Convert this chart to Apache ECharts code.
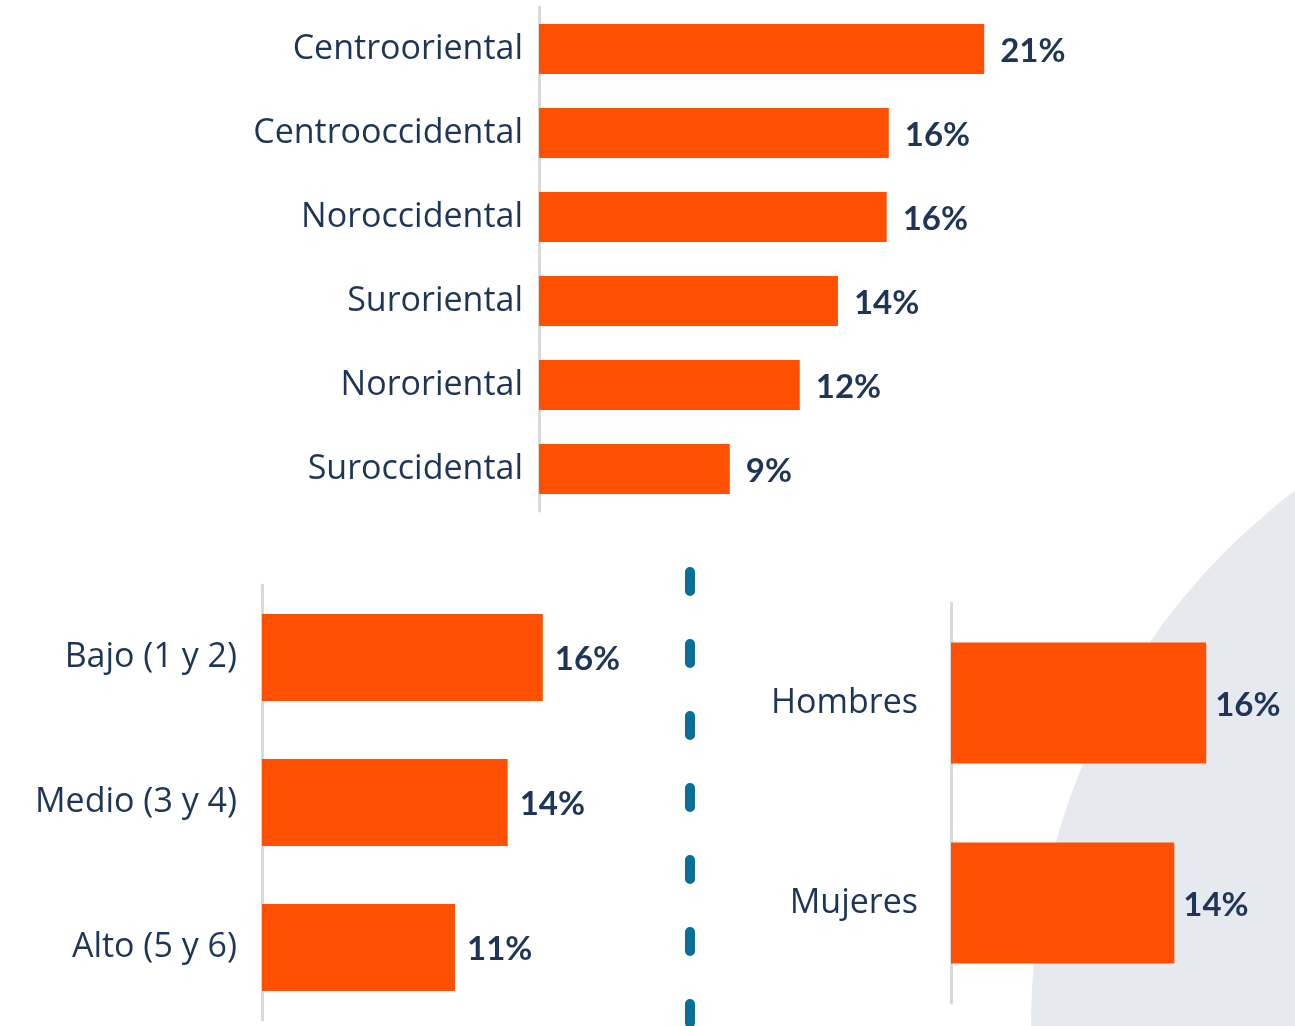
<!DOCTYPE html>
<html><head><meta charset="utf-8">
<script src="https://cdn.jsdelivr.net/npm/echarts@6/dist/echarts.min.js"></script>
<style>html,body{margin:0;padding:0;background:#fff}#c{width:1295px;height:1026px}</style>
</head><body><div id="c"></div>
<script>
// Data
const regionCategories = ["Centrooriental","Centrooccidental","Noroccidental","Suroriental","Nororiental","Suroccidental"];
const regionValues = [21, 16.5, 16.4, 14.1, 12.3, 9.0];
const regionLabels = ["21%","16%","16%","14%","12%","9%"];

const levelCategories = ["Bajo (1 y 2)","Medio (3 y 4)","Alto (5 y 6)"];
const levelValues = [16, 14, 11];
const levelLabels = ["16%","14%","11%"];

const genderCategories = ["Hombres","Mujeres"];
const genderValues = [16, 14];
const genderLabels = ["16%","14%"];

const CAT_FONT = "Open Sans";
const VAL_FONT = "Lato";
const NAVY = "#1e3557";
const ORANGE = "#ff4f00";
const AXIS = "#d9d9d9";

const chart = echarts.init(document.getElementById('c'), null, {renderer:'canvas'});

function yAx(idx, cats, margin){
  return {type:'category', gridIndex:idx, data:cats, inverse:true,
    axisTick:{show:false},
    axisLine:{show:true, lineStyle:{color:AXIS, width:3}},
    axisLabel:{color:NAVY, fontFamily:CAT_FONT, fontSize:34, margin:margin}};
}
function xAx(idx, max){
  return {type:'value', gridIndex:idx, min:0, max:max, show:false, splitLine:{show:false}};
}
function bar(idx, vals, labels, w, dist){
  return {type:'bar', xAxisIndex:idx, yAxisIndex:idx, data:vals, barWidth:w,
    itemStyle:{color:ORANGE}, z:3,
    label:{show:true, position:'right', distance:dist, offset:[0,2], color:NAVY, fontFamily:VAL_FONT, fontWeight:'bold', fontSize:33,
      formatter:p=>labels[p.dataIndex]}};
}

chart.setOption({
  animation:false,
  graphic:[
    {type:'circle', shape:{cx:1698, cy:1022, r:667}, style:{fill:'#e6e9ed'}, z:-10},
    {type:'line', shape:{x1:690, y1:572, x2:690, y2:1040}, style:{stroke:'#0b6e99', lineWidth:10, lineCap:'round', lineDash:[19,53]}, z:-5}
  ],
  grid:[
    {left:539, top:7, width:530, height:504},
    {left:262, top:585, width:351, height:435},
    {left:951, top:603, width:319, height:400}
  ],
  xAxis:[xAx(0,25), xAx(1,20), xAx(2,20)],
  yAxis:[yAx(0,regionCategories,16), yAx(1,levelCategories,25), yAx(2,genderCategories,33)],
  series:[
    bar(0, regionValues, regionLabels, 50, 16),
    bar(1, levelValues, levelLabels, 87, 12),
    bar(2, genderValues, genderLabels, 121, 9)
  ]
});
</script></body></html>
